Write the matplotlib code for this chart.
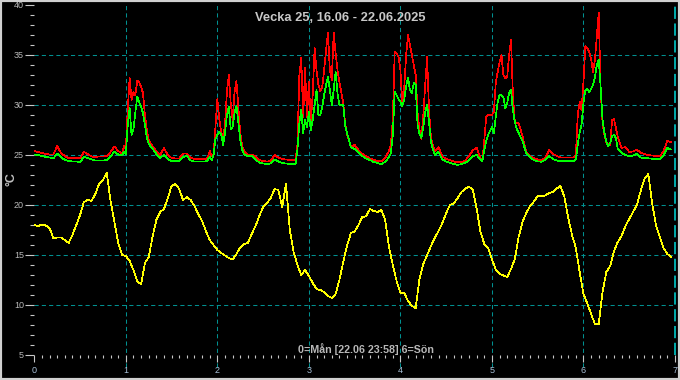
import numpy as np
import matplotlib
matplotlib.use('Agg')
import matplotlib.pyplot as plt
from matplotlib.patches import Rectangle
from matplotlib.ticker import MultipleLocator

plt.rcParams['font.family'] = ['Liberation Sans', 'DejaVu Sans']

title = 'Vecka 25, 16.06 - 22.06.2025'
footer = '0=Mån [22.06 23:58] 6=Sön'
ylabel = '°C'

# outdoor temperature, one value per hour from Monday 00:00 (yellow)
out_temp = [
    18.0, 17.9, 18.05, 17.95, 17.7, 16.7, 16.75, 16.75, 16.5, 16.2, 17.0, 18.0,
    19.0, 20.3, 20.5, 20.4, 21.1, 22.1, 22.5, 23.2, 20.4, 18.3, 16.2, 15.0,
    14.9, 14.4, 13.5, 12.4, 12.05, 14.2, 14.8, 16.8, 18.5, 19.3, 19.6, 20.7,
    21.9, 22.1, 21.6, 20.5, 20.8, 20.5, 19.9, 19.1, 18.4, 17.4, 16.5, 16.0,
    15.5, 15.2, 14.95, 14.7, 14.55, 15.1, 15.75, 16.1, 16.2, 17.1, 17.9, 18.9,
    19.8, 20.2, 20.7, 21.6, 21.5, 19.8, 22.1, 17.5, 15.3, 14.0, 13.0, 13.5,
    12.9, 12.2, 11.6, 11.5, 11.3, 10.9, 10.7, 11.1, 12.5, 14.3, 15.9, 17.2,
    17.35, 18.0, 18.8, 18.85, 19.6, 19.4, 19.3, 19.5, 18.5, 15.8, 14.0, 12.4,
    11.2, 11.2, 10.4, 9.9, 9.7, 12.6, 14.1, 15.0, 15.9, 16.7, 17.4, 18.2,
    19.2, 20.0, 20.15, 20.7, 21.3, 21.65, 21.83, 21.5, 19.6, 17.3, 16.1, 15.7,
    14.6, 13.5, 13.1, 12.95, 12.8, 13.6, 14.6, 16.8, 18.3, 19.2, 19.9, 20.35,
    20.9, 20.9, 20.95, 21.2, 21.3, 21.65, 21.9, 20.8, 18.7, 17.0, 15.7, 13.3,
    11.1, 10.17, 9.1, 8.1, 8.1, 11.3, 13.3, 13.9, 15.4, 16.3, 16.9, 17.9,
    18.6, 19.3, 20.0, 21.4, 22.6, 23.1, 20.2, 18.0, 16.8, 15.7, 15.1, 14.8,
]

# the two indoor sensors, hours since Monday 00:00 (denser around the peaks)
hours_rg = [
    0, 1, 2, 3, 4, 5, 6, 7, 8, 9, 10, 11, 12, 13, 14, 15, 16, 17, 18, 19, 20, 21, 22, 23,
    23.5, 24, 24.5, 25, 25.5, 26, 26.5, 27, 27.5, 28, 28.5, 29, 29.5, 30,
    31, 32, 33, 34, 35, 36, 37, 38, 39, 40, 41, 42, 43, 44, 45,
    45.5, 46, 46.5, 47, 47.5, 48, 48.5, 49, 49.5, 50, 50.5, 51, 51.5, 52, 52.5, 53, 53.5, 54, 54.5, 55,
    56, 57, 58, 59, 60, 61, 62, 63, 64, 65, 66, 67, 68,
    68.5, 69, 69.5, 70, 70.5, 71, 71.5, 72, 72.5, 73, 73.5, 74, 74.5, 75, 75.5,
    76, 76.5, 77, 77.5, 78, 78.5, 79, 79.5, 80, 80.5, 81, 81.5, 82, 82.5, 83,
    84, 85, 86, 87, 88, 89, 90, 91, 92, 93,
    93.5, 94, 94.5, 95, 95.5, 96, 96.5, 97, 97.5, 98, 98.5, 99,
    99.5, 100, 100.5, 101, 101.5, 102, 102.5, 103, 103.5, 104, 104.5, 105,
    106, 107, 108, 109, 110, 111, 112, 113, 114, 115, 116, 117,
    117.5, 118, 118.5, 119, 119.5, 120, 120.5, 121, 121.5, 122,
    122.5, 123, 123.5, 124, 124.5, 125, 125.5, 126, 126.5,
    127, 128, 129, 130, 131, 132, 133, 134, 135, 136, 137, 138, 139, 140, 141,
    141.5, 142, 142.5, 143, 143.5, 144, 144.5, 145, 145.5, 146, 146.5, 147,
    147.5, 148, 148.5, 149, 149.5, 150, 150.5, 151, 151.5, 152, 152.5, 153,
    154, 155, 156, 157, 158, 159, 160, 161, 162, 163, 164, 165, 166, 167,
]

red_temp = [
    25.4, 25.3, 25.2, 25.1, 25.05, 25.05, 25.9, 25.2, 24.9, 24.7, 24.7, 24.7,
    24.65, 25.3, 25.1, 24.85, 24.8, 24.85, 24.85, 24.9, 25.3, 25.85, 25.4, 25.15,
    25.9, 25.6, 29.5, 32.7, 30.5, 31.3, 31.0, 32.4, 32.3, 31.8, 31.2, 29.0, 27.5, 26.5,
    25.85, 25.4, 25.0, 25.7, 25.0, 24.7, 24.65, 24.65, 25.15, 25.15, 24.7, 24.6, 24.6, 24.6, 24.6,
    24.8, 25.4, 24.9, 25.0, 27.8, 30.6, 28.6, 27.3, 26.5, 28.0,
    31.3, 33.0, 30.2, 28.5, 31.3, 32.4, 29.8, 27.2, 25.9, 25.4,
    25.05, 25.05, 24.85, 24.5, 24.4, 24.35, 24.4, 25.0, 24.75, 24.6, 24.55, 24.5, 24.5,
    24.5, 26.0, 33.0, 34.7, 28.8, 33.7, 28.8, 32.3, 28.3, 31.0, 35.7, 33.5, 32.0, 31.4, 31.8,
    33.5, 35.5, 37.2, 33.5, 32.5, 37.2, 35.2, 33.5, 32.3, 31.3, 30.2, 28.2, 27.0, 26.5, 25.8,
    26.0, 25.5, 25.1, 24.9, 24.65, 24.5, 24.4, 24.35, 24.7, 25.4,
    26.0, 28.5, 35.3, 35.2, 34.8, 33.5, 30.2, 31.8, 35.0, 37.0, 36.0, 35.0,
    34.0, 33.0, 29.2, 27.5, 26.6, 29.0, 32.0, 34.8, 29.5, 26.8, 26.0, 25.4,
    25.8, 24.85, 24.6, 24.5, 24.35, 24.25, 24.3, 24.45, 24.9, 25.5, 25.7, 24.7,
    24.5, 26.5, 28.8, 29.0, 29.0, 29.0, 29.3, 32.2, 33.3, 34.3,
    35.0, 33.0, 32.7, 32.8, 35.0, 36.5, 31.0, 28.3, 28.2,
    28.2, 26.9, 25.3, 24.85, 24.7, 24.55, 24.5, 24.7, 25.5, 25.1, 24.9, 24.75, 24.75, 24.75, 24.75,
    24.75, 25.0, 29.0, 30.3, 29.5, 32.3, 35.9, 35.7, 35.3, 34.6, 33.3, 34.5,
    36.8, 39.2, 31.5, 28.2, 27.0, 26.3, 26.1, 26.0, 28.5, 28.6, 27.7, 26.8,
    25.7, 25.8, 25.3, 25.35, 25.55, 25.2, 25.1, 25.0, 24.95, 24.9, 24.85, 25.4, 26.4, 26.3,
]

green_temp = [
    25.05, 25.0, 24.9, 24.8, 24.75, 24.65, 25.15, 24.8, 24.5, 24.4, 24.35, 24.35,
    24.3, 24.8, 24.7, 24.55, 24.45, 24.45, 24.45, 24.5, 24.9, 25.3, 25.05, 24.95,
    25.3, 25.1, 28.0, 29.7, 27.0, 27.6, 29.3, 30.8, 30.3, 29.8, 29.2, 28.0, 26.8, 26.1,
    25.65, 25.1, 24.7, 25.0, 24.6, 24.4, 24.4, 24.4, 24.8, 24.9, 24.45, 24.35, 24.35, 24.35, 24.35,
    24.5, 24.85, 24.5, 25.0, 26.6, 27.0, 27.3, 27.1, 26.0, 27.2,
    29.0, 29.8, 27.6, 27.8, 29.2, 29.9, 28.3, 26.5, 25.5, 25.1,
    24.85, 24.95, 24.55, 24.25, 24.15, 24.1, 24.15, 24.55, 24.35, 24.2, 24.15, 24.1, 24.07,
    24.07, 25.5, 28.2, 29.5, 27.2, 28.5, 27.8, 29.3, 27.5, 28.5, 30.0, 31.5, 29.0, 29.0, 29.8,
    31.0, 32.0, 32.8, 31.5, 30.0, 31.5, 33.3, 31.2, 30.0, 30.0, 30.0, 28.0, 27.2, 26.5, 25.8,
    25.6, 25.3, 24.9, 24.65, 24.5, 24.3, 24.2, 24.1, 24.3, 24.8,
    25.2, 27.0, 31.3, 31.0, 30.6, 30.3, 29.9, 30.5, 31.9, 32.7, 31.5, 31.2,
    32.2, 32.0, 28.0, 27.1, 26.7, 27.8, 29.3, 30.0, 28.3, 26.3, 25.6, 25.0,
    25.3, 24.55, 24.35, 24.2, 24.1, 24.0, 24.1, 24.2, 24.5, 24.9, 25.0, 24.5,
    24.4, 25.5, 26.4, 27.0, 27.4, 27.8, 27.2, 28.8, 30.3, 31.0,
    31.0, 30.8, 29.7, 30.2, 31.2, 31.5, 29.5, 28.3, 27.6,
    27.2, 26.4, 25.2, 24.75, 24.5, 24.35, 24.33, 24.5, 24.9, 24.6, 24.45, 24.4, 24.4, 24.4, 24.4,
    24.4, 24.6, 26.0, 27.3, 28.0, 30.2, 31.5, 31.6, 31.3, 31.6, 32.0, 32.8,
    34.0, 34.5, 31.8, 28.5, 27.2, 26.3, 25.9, 26.2, 26.9, 27.0, 26.7, 25.6,
    25.2, 25.0, 24.85, 24.95, 25.1, 24.75, 24.7, 24.67, 24.62, 24.6, 24.57, 24.95, 25.7, 25.55,
]

t_out = np.arange(len(out_temp)) / 24.0
t_rg = np.array(hours_rg) / 24.0

W, H = 680, 380
fig = plt.figure(figsize=(W / 100, H / 100), dpi=100, facecolor='black')
x0, x1 = 34.3, 675.0
y0, y1 = 355.0, 5.0
ax = fig.add_axes([x0 / W, 1 - y0 / H, (x1 - x0) / W, (y0 - y1) / H])
ax.set_facecolor('black')
ax.set_xlim(0, 7)
ax.set_ylim(5, 40)
for s in ax.spines.values():
    s.set_visible(False)

ax.xaxis.set_major_locator(MultipleLocator(1))
ax.xaxis.set_minor_locator(MultipleLocator(1 / 12))
ax.yaxis.set_major_locator(MultipleLocator(5))
ax.yaxis.set_minor_locator(MultipleLocator(1))
ax.tick_params(axis='y', which='major', length=6.5, width=0.8, color='#c8c8c8',
               labelcolor='#b8b8b8', labelsize=6.5, pad=1)
ax.tick_params(axis='y', which='minor', length=2.6, width=0.8, color='#c8c8c8')
ax.tick_params(axis='x', which='major', length=5, width=0.8, color='#c8c8c8',
               labelcolor='#a8c0d8', labelsize=6.5, pad=3)
ax.tick_params(axis='x', which='minor', length=2.4, width=0.8, color='#c8c8c8')

grid_col = '#009090'
for yv in [10, 15, 20, 25, 30, 35]:
    ax.axhline(yv, color=grid_col, lw=0.75, ls=(0, (4, 3)), zorder=1)
for xv in [1, 2, 3, 4, 5, 6]:
    ax.vlines(xv, 3.8, 40, color=grid_col, lw=0.75, ls=(0, (4, 3)), zorder=1, clip_on=False)
ax.vlines(7, 5, 40, color='#00dada', lw=1.1, ls=(0, (8, 3)), zorder=1, clip_on=False)

ax.plot(t_out, out_temp, color='#ffff00', lw=0.5, antialiased=False, zorder=3)
ax.plot(t_rg, red_temp, color='#ff0000', lw=0.5, antialiased=False, zorder=3)
ax.plot(t_rg, green_temp, color='#00ff00', lw=0.5, antialiased=False, zorder=4)

fig.text(340 / W, 1 - 18 / H, title, ha='center', va='center', color='#c8c8c8',
         fontsize=9.3, fontweight='bold')
fig.text(366 / W, 1 - 349 / H, footer, ha='center', va='center', color='#b8b8b8',
         fontsize=7.7, fontweight='bold')
fig.text(11 / W, 1 - 179 / H, ylabel, rotation=90, ha='center', va='center',
         color='#c0c0c0', fontsize=9, fontweight='bold')

fig.add_artist(Rectangle((0, 0), 1, 1, transform=fig.transFigure, fill=False,
                         edgecolor='#d0d0d0', lw=3))

fig.savefig('out.png', dpi=100, facecolor='black')
